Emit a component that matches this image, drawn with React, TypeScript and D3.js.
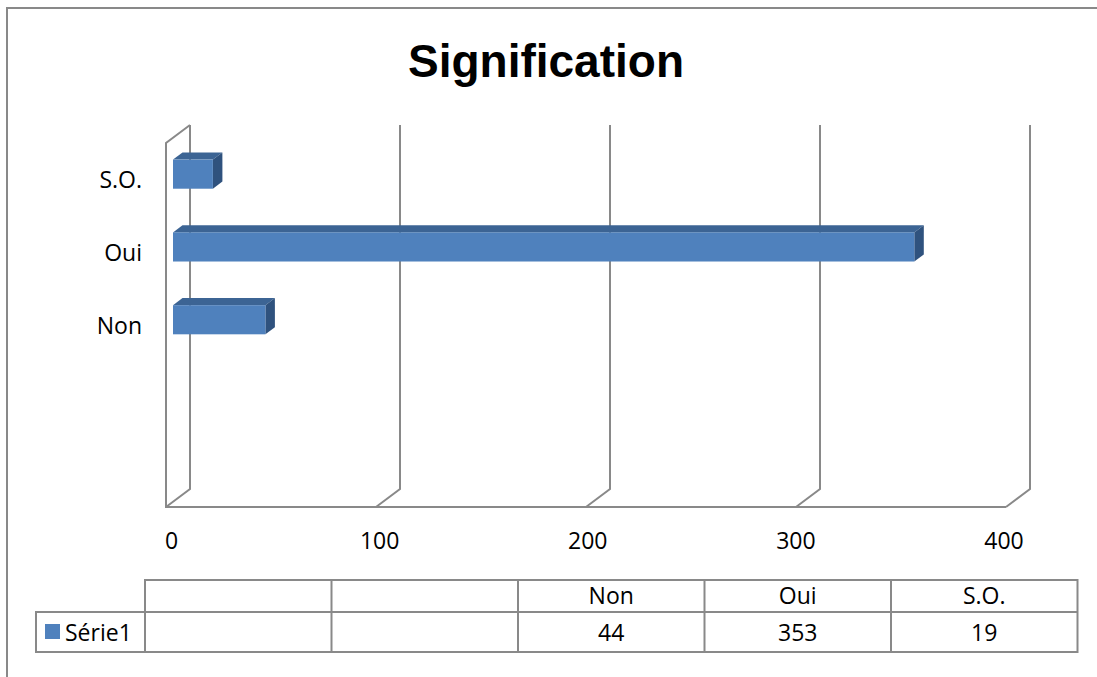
import React from "react";
import * as d3 from "d3";

// données du graphique
const categories = ["", "", "Non", "Oui", "S.O."];
const values: (number | null)[] = [null, null, 44, 353, 19];
const xTicks = [0, 100, 200, 300, 400];
const seriesName = "Série1";
const title = "Signification";

const W = 1097;
const H = 677;
const FONT = "'Open Sans', 'DejaVu Sans', sans-serif";
const GRID = "#898989";

// profondeur 3D
const DX = 24;
const DY = -18;

const x = d3.scaleLinear().domain([0, 400]).range([166, 1006]);
// les étiquettes de graduation ne tombent pas tout à fait sous le plancher
const xLabel = d3.scaleLinear().domain([0, 400]).range([171.5, 1004]);
const y = d3
  .scaleBand<number>()
  .domain(categories.map((_, i) => i))
  .range([507, 143])
  .paddingInner(0.6)
  .paddingOuter(0.3);

const proj = (v: number, yy: number, d: number): [number, number] => [
  x(v) + DX * d,
  yy + DY * d,
];

const pts = (p: [number, number][]) => p.map((q) => q.join(",")).join(" ");

const tableX = d3.scaleLinear().domain([0, categories.length]).range([145, 1077.5]);
const rowTop = 580;
const rowMid = 612;
const rowBot = 652;

export default function App() {
  const yTop = 143;
  const yBottom = 507;
  const d0 = 7 / 24;
  const d1 = 16.5 / 24;

  return (
    <svg
      width={W}
      height={H}
      style={{ position: "absolute", left: 0, top: 0, display: "block", background: "#fff" }}
      fontFamily={FONT}
    >
      {/* cadre du graphique */}
      <path d={`M7,${H + 5} V8 H${W + 5}`} fill="none" stroke={GRID} strokeWidth={2} />

      <text x={546} y={77} textAnchor="middle" fontSize={46} fontWeight="bold" fontFamily="'Liberation Sans', Arial, sans-serif">
        {title}
      </text>

      {/* quadrillage */}
      <g stroke={GRID} strokeWidth={2} fill="none">
        <polyline points={pts([proj(0, yTop, 1), proj(0, yTop, 0), proj(0, yBottom, 0), proj(400, yBottom, 0)])} />
        {xTicks.map((t) => (
          <polyline key={t} points={pts([proj(t, yBottom, 0), proj(t, yBottom, 1), proj(t, yTop, 1)])} />
        ))}
      </g>

      {/* barres */}
      {values.map((v, i) => {
        if (v == null) return null;
        const b0 = y(i)!;
        const b1 = b0 + y.bandwidth();
        const fl = proj(0, b0, d0);
        const fr = proj(v, b0, d0);
        const frb = proj(v, b1, d0);
        const bl = proj(0, b0, d1);
        const br = proj(v, b0, d1);
        const brb = proj(v, b1, d1);
        return (
          <g key={i}>
            <polygon points={pts([fl, fr, br, bl])} fill="#3C6494" />
            <polygon points={pts([fr, br, brb, frb])} fill="#2F527E" />
            <rect x={fl[0]} y={fl[1]} width={fr[0] - fl[0]} height={frb[1] - fr[1]} fill="#4F81BD" />
          </g>
        );
      })}

      {/* étiquettes de catégories */}
      {categories.map((c, i) => (
        <text key={i} x={142} y={y(i)! + y.bandwidth() / 2 + 9} textAnchor="end" fontSize={23}>
          {c}
        </text>
      ))}

      {/* graduations */}
      {xTicks.map((t) => (
        <text key={t} x={xLabel(t)} y={549} textAnchor="middle" fontSize={23}>
          {t}
        </text>
      ))}

      {/* table de données */}
      <g stroke={GRID} strokeWidth={2} fill="none">
        <rect x={tableX(0)} y={rowTop} width={tableX(categories.length) - tableX(0)} height={rowBot - rowTop} />
        <line x1={36} x2={tableX(categories.length)} y1={rowMid} y2={rowMid} />
        <polyline points={pts([[tableX(0), rowMid], [36, rowMid], [36, rowBot], [tableX(0), rowBot]])} />
        {categories.map((_, i) =>
          i === 0 ? null : <line key={i} x1={tableX(i)} x2={tableX(i)} y1={rowTop} y2={rowBot} />
        )}
      </g>
      {categories.map((c, i) => (
        <g key={i} fontSize={23} textAnchor="middle">
          <text x={(tableX(i) + tableX(i + 1)) / 2} y={604}>
            {c}
          </text>
          <text x={(tableX(i) + tableX(i + 1)) / 2} y={641}>
            {values[i] ?? ""}
          </text>
        </g>
      ))}
      <rect x={45} y={624} width={15} height={15} fill="#4F81BD" />
      <text x={65} y={641} fontSize={23}>
        {seriesName}
      </text>
    </svg>
  );
}
